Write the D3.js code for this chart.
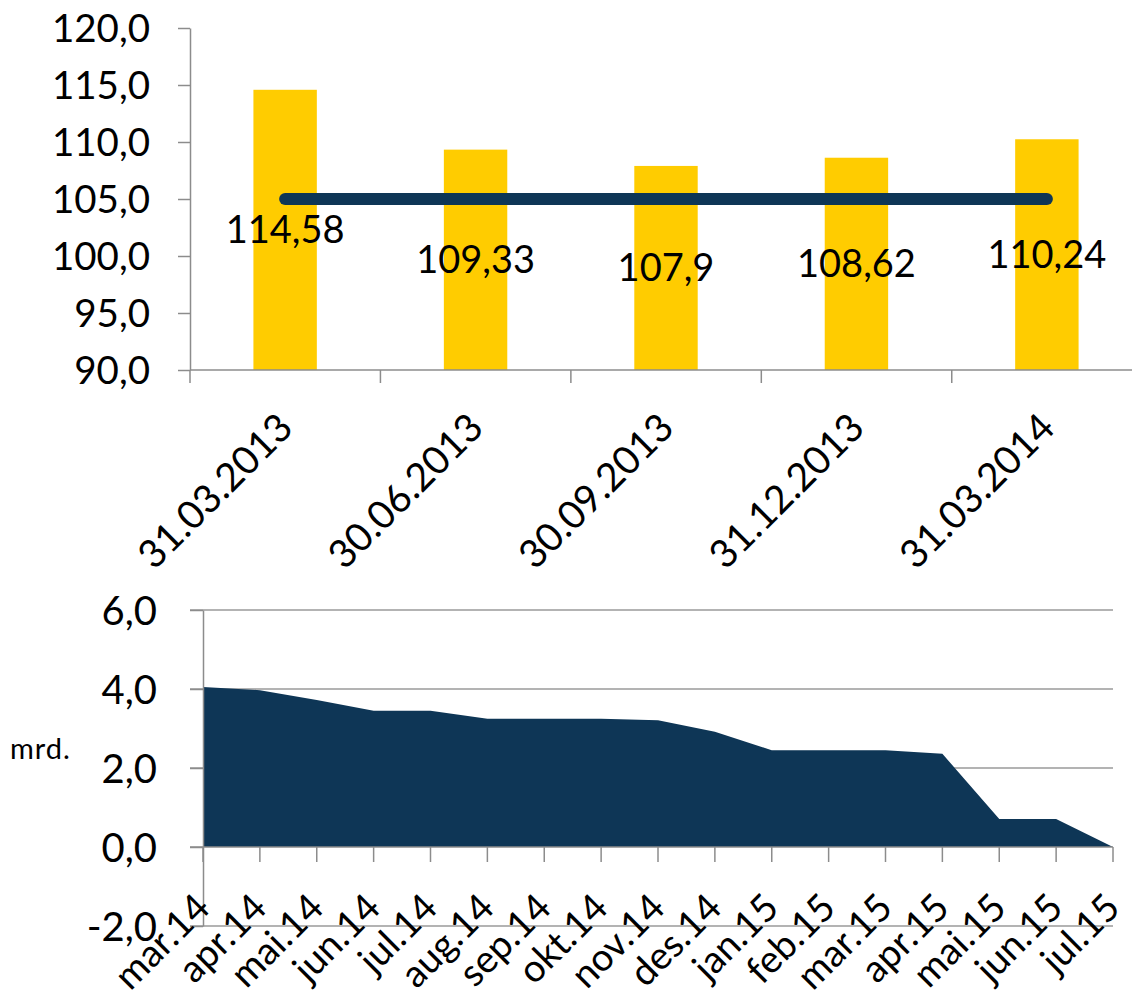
<!DOCTYPE html>
<html>
<head>
<meta charset="utf-8">
<script src="https://cdn.jsdelivr.net/npm/d3@7"></script>
<style>
  body { margin: 0; background: #fff; }
  svg { display: block; font-family: Lato, "Open Sans", sans-serif; }
</style>
</head>
<body>
<svg id="chart" width="1132" height="1005"></svg>
<script>
// top chart data
const quarters = ["31.03.2013", "30.06.2013", "30.09.2013", "31.12.2013", "31.03.2014"];
const barValues = [114.58, 109.33, 107.9, 108.62, 110.24];
const lineValues = [105, 105, 105, 105, 105];
const barLabels = ["114,58", "109,33", "107,9", "108,62", "110,24"];
const topTicks = [90, 95, 100, 105, 110, 115, 120];

// bottom chart data
const months = ["mar.14", "apr.14", "mai.14", "jun.14", "jul.14", "aug.14", "sep.14", "okt.14",
  "nov.14", "des.14", "jan.15", "feb.15", "mar.15", "apr.15", "mai.15", "jun.15", "jul.15"];
const areaValues = [4.05, 3.97, 3.72, 3.45, 3.45, 3.25, 3.25, 3.25,
  3.21, 2.92, 2.45, 2.45, 2.45, 2.36, 0.71, 0.71, 0.0];
const bottomTicks = [-2, 0, 2, 4, 6];

const yellow = "#ffcc00";
const navy = "#0e3656";
const axisGrey = "#8c8c8c";
// comma decimals, plain hyphen for negatives
const fmt1 = v => d3.format(".1f")(v).replace(".", ",").replace("\u2212", "-");

const svg = d3.select("#chart");

// ---- top chart ----
const x1 = d3.scaleBand().domain(quarters).range([190, 1142])
  .paddingInner(0.667).paddingOuter(0.333);
const y1 = d3.scaleLinear().domain([90, 120]).range([370, 28]);

const topG = svg.append("g");

topG.selectAll(".bar")
  .data(barValues)
  .enter().append("rect")
  .attr("x", (d, i) => x1(quarters[i]))
  .attr("width", x1.bandwidth())
  .attr("y", d => y1(d))
  .attr("height", d => y1(90) - y1(d))
  .attr("fill", yellow);

// y axis
const yAx1 = topG.append("g").attr("transform", "translate(190,0)")
  .call(d3.axisLeft(y1).tickValues(topTicks).tickFormat(fmt1).tickSize(12).tickSizeOuter(0));
yAx1.select(".domain").attr("stroke", axisGrey).attr("stroke-width", 1.5);
yAx1.selectAll(".tick line").attr("stroke", axisGrey).attr("stroke-width", 1.5);
yAx1.selectAll(".tick text").attr("font-size", 38.5).attr("font-family", "Lato")
  .attr("fill", "#000").attr("x", -40).attr("dy", "0.36em");

// x axis
const xAx1 = topG.append("g").attr("transform", "translate(0,370)");
xAx1.append("line").attr("x1", 190).attr("x2", 1142).attr("stroke", axisGrey).attr("stroke-width", 1.5);
const step1 = x1.step();
xAx1.selectAll(".xt")
  .data(d3.range(quarters.length + 1))
  .enter().append("line")
  .attr("x1", i => 190 + i * step1).attr("x2", i => 190 + i * step1)
  .attr("y1", 0).attr("y2", 13)
  .attr("stroke", axisGrey).attr("stroke-width", 1.5);

topG.selectAll(".xl")
  .data(quarters)
  .enter().append("text")
  .attr("transform", d => `translate(${x1(d) + x1.bandwidth() / 2 + 10},${430}) rotate(-45)`)
  .attr("text-anchor", "end")
  .attr("font-size", 39)
  .text(d => d);

// line
const lineGen = d3.line()
  .x((d, i) => x1(quarters[i]) + x1.bandwidth() / 2)
  .y(d => y1(d));
topG.append("path")
  .datum(lineValues)
  .attr("d", lineGen)
  .attr("fill", "none")
  .attr("stroke", navy)
  .attr("stroke-width", 12)
  .attr("stroke-linecap", "round");

// data labels in the middle of the bars
topG.selectAll(".dl")
  .data(barValues)
  .enter().append("text")
  .attr("x", (d, i) => x1(quarters[i]) + x1.bandwidth() / 2)
  .attr("y", d => (y1(d) + y1(90)) / 2)
  .attr("dy", "0.35em")
  .attr("text-anchor", "middle")
  .attr("font-size", 38)
  .text((d, i) => barLabels[i]);

// ---- bottom chart ----
const x2 = d3.scalePoint().domain(months).range([203, 1113]);
const y2 = d3.scaleLinear().domain([-2, 6]).range([926, 610]);

const bot = svg.append("g");

// gridlines
bot.selectAll(".grid")
  .data(bottomTicks.filter(v => v !== 0))
  .enter().append("line")
  .attr("x1", 190).attr("x2", 1113)
  .attr("y1", d => y2(d)).attr("y2", d => y2(d))
  .attr("stroke", "#9a9a9a").attr("stroke-width", 1.5);

// area
const areaGen = d3.area()
  .x((d, i) => x2(months[i]))
  .y0(y2(0))
  .y1(d => y2(d));
bot.append("path")
  .datum(areaValues)
  .attr("d", areaGen)
  .attr("fill", navy);

// y axis
const yAx2 = bot.append("g").attr("transform", "translate(203,0)")
  .call(d3.axisLeft(y2).tickValues(bottomTicks).tickFormat(fmt1).tickSize(13).tickSizeOuter(0));
yAx2.select(".domain").attr("stroke", axisGrey).attr("stroke-width", 1.5);
yAx2.selectAll(".tick line").attr("stroke", axisGrey).attr("stroke-width", 1.5);
yAx2.selectAll(".tick text").attr("font-size", 40).attr("font-family", "Lato")
  .attr("fill", "#000").attr("x", -46).attr("dy", "0.36em");

// zero line with category ticks
bot.append("line").attr("x1", 190).attr("x2", 1113)
  .attr("y1", y2(0)).attr("y2", y2(0))
  .attr("stroke", axisGrey).attr("stroke-width", 1.5);
bot.selectAll(".xt2")
  .data(months)
  .enter().append("line")
  .attr("x1", d => x2(d)).attr("x2", d => x2(d))
  .attr("y1", y2(0)).attr("y2", y2(0) + 15)
  .attr("stroke", axisGrey).attr("stroke-width", 1.5);

bot.selectAll(".xl2")
  .data(months)
  .enter().append("text")
  .attr("transform", d => `translate(${x2(d) + 9},${910}) rotate(-45)`)
  .attr("text-anchor", "end")
  .attr("font-size", 38)
  .text(d => d);

bot.append("text")
  .attr("x", 10).attr("y", 759)
  .attr("font-size", 29)
  .attr("letter-spacing", 1)
  .text("mrd.");
</script>
</body>
</html>
